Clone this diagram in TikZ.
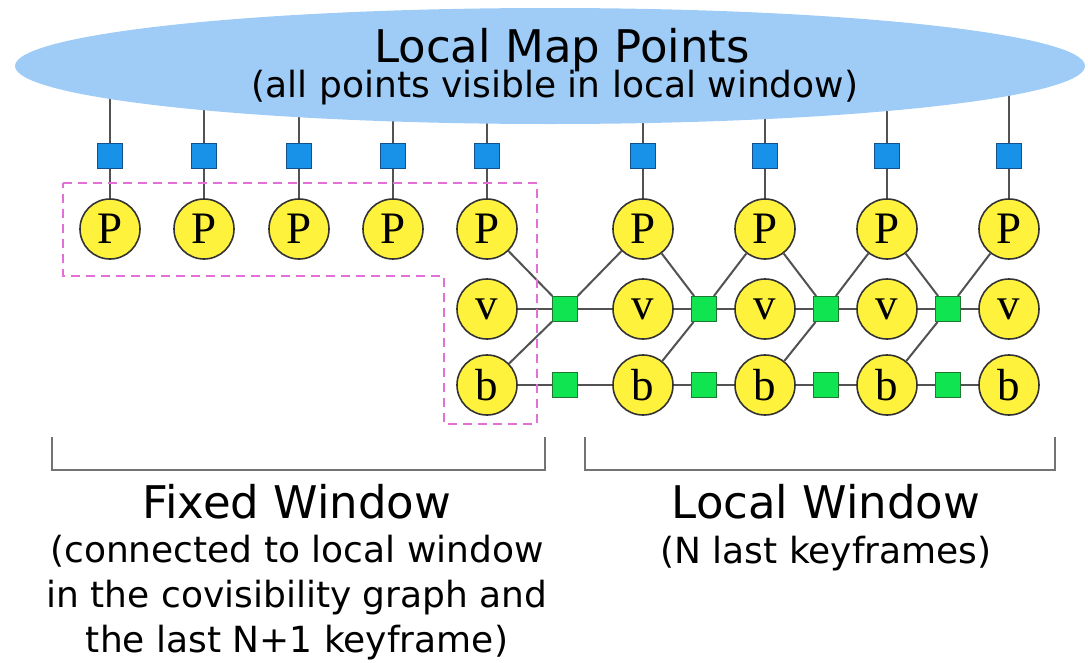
\documentclass[tikz,border=0pt]{standalone}
\usepackage{fontspec}
\setmainfont{DejaVu Sans}
\newfontfamily\kffont{Liberation Serif}
\usetikzlibrary{positioning,backgrounds,shapes.geometric}
\definecolor{mapblue}{RGB}{158,204,247}
\definecolor{mpblue}{RGB}{24,146,232}
\definecolor{mpedge}{RGB}{20,80,140}
\definecolor{imugreen}{RGB}{16,228,80}
\definecolor{imuedge}{RGB}{30,120,50}
\definecolor{kfyellow}{RGB}{255,242,60}
\definecolor{fixpink}{RGB}{226,112,214}

\tikzset{
	kf/.style={circle, draw=black!80, line width=1.6pt, fill=kfyellow, minimum size=60pt, inner sep=0pt, font=\kffont\fontsize{45}{45}\selectfont},
	mp/.style={rectangle, draw=mpedge, line width=1pt, fill=mpblue, minimum size=25pt, inner sep=0pt},
	imu/.style={rectangle, draw=imuedge, line width=1pt, fill=imugreen, minimum size=25pt, inner sep=0pt},
	edge/.style={draw=black!68, line width=2pt},
	bracket/.style={draw=black!55, line width=1.6pt},
	fixbox/.style={draw=fixpink, line width=2.5pt, dash pattern=on 9pt off 6pt},
	bigtext/.style={font=\fontsize{45}{45}\selectfont},
	smalltext/.style={font=\fontsize{36}{45}\selectfont, align=center}
}

\begin{document}
\begin{tikzpicture}[x=1pt, y=-1pt]
		%%%%% START %%%%%
		\useasboundingbox (0,0) rectangle (1088,662);
		
		\node[ellipse, fill=mapblue, minimum width=1070pt, minimum height=116pt, inner sep=0pt] (lmp) at (550,66) {};
		\node[bigtext, anchor=base] (lmptitle) at (562,62) {Local Map Points};
		\node[smalltext, anchor=base] (lmpnote) at (555,97) {(all points visible in local window)};
		
		% map point factors
		\node[mp] (m1) at (110,156) {};
		\node[mp] (m2) at (204,156) {};
		\node[mp] (m3) at (299,156) {};
		\node[mp] (m4) at (393,156) {};
		\node[mp] (m5) at (487,156) {};
		\node[mp] (m6) at (643,156) {};
		\node[mp] (m7) at (765,156) {};
		\node[mp] (m8) at (887,156) {};
		\node[mp] (m9) at (1009,156) {};
		
		% keyframe poses
		\node[kf] (p1) at (110,229) {P};
		\node[kf] (p2) at (204,229) {P};
		\node[kf] (p3) at (299,229) {P};
		\node[kf] (p4) at (393,229) {P};
		\node[kf] (p5) at (487,229) {P};
		\node[kf] (p6) at (643,229) {P};
		\node[kf] (p7) at (765,229) {P};
		\node[kf] (p8) at (887,229) {P};
		\node[kf] (p9) at (1009,229) {P};
		
		% velocities and biases
		\node[kf] (v5) at (487,309) {v};
		\node[kf] (v6) at (643,309) {v};
		\node[kf] (v7) at (765,309) {v};
		\node[kf] (v8) at (887,309) {v};
		\node[kf] (v9) at (1009,309) {v};
		\node[kf] (b5) at (487,385) {b};
		\node[kf] (b6) at (643,385) {b};
		\node[kf] (b7) at (765,385) {b};
		\node[kf] (b8) at (887,385) {b};
		\node[kf] (b9) at (1009,385) {b};
		
		% inertial factors
		\node[imu] (g5) at (565,309) {};
		\node[imu] (g6) at (704,309) {};
		\node[imu] (g7) at (826,309) {};
		\node[imu] (g8) at (948,309) {};
		\node[imu] (h5) at (565,385) {};
		\node[imu] (h6) at (704,385) {};
		\node[imu] (h7) at (826,385) {};
		\node[imu] (h8) at (948,385) {};
		
		\begin{pgfonlayer}{background}
			\draw[edge] (m1) -- (m1 |- lmp.center);
			\draw[edge] (m2) -- (m2 |- lmp.center);
			\draw[edge] (m3) -- (m3 |- lmp.center);
			\draw[edge] (m4) -- (m4 |- lmp.center);
			\draw[edge] (m5) -- (m5 |- lmp.center);
			\draw[edge] (m6) -- (m6 |- lmp.center);
			\draw[edge] (m7) -- (m7 |- lmp.center);
			\draw[edge] (m8) -- (m8 |- lmp.center);
			\draw[edge] (m9) -- (m9 |- lmp.center);
		\end{pgfonlayer}
		
		\draw[edge] (m1) -- (p1);
		\draw[edge] (m2) -- (p2);
		\draw[edge] (m3) -- (p3);
		\draw[edge] (m4) -- (p4);
		\draw[edge] (m5) -- (p5);
		\draw[edge] (m6) -- (p6);
		\draw[edge] (m7) -- (p7);
		\draw[edge] (m8) -- (p8);
		\draw[edge] (m9) -- (p9);
		
		\draw[edge] (p5) -- (g5) -- (p6);
		\draw[edge] (v5) -- (g5) -- (v6);
		\draw[edge] (g5) -- (b5);
		\draw[edge] (b5) -- (h5) -- (b6);
		\draw[edge] (p6) -- (g6) -- (p7);
		\draw[edge] (v6) -- (g6) -- (v7);
		\draw[edge] (g6) -- (b6);
		\draw[edge] (b6) -- (h6) -- (b7);
		\draw[edge] (p7) -- (g7) -- (p8);
		\draw[edge] (v7) -- (g7) -- (v8);
		\draw[edge] (g7) -- (b7);
		\draw[edge] (b7) -- (h7) -- (b8);
		\draw[edge] (p8) -- (g8) -- (p9);
		\draw[edge] (v8) -- (g8) -- (v9);
		\draw[edge] (g8) -- (b8);
		\draw[edge] (b8) -- (h8) -- (b9);
		
		% fixed window outline
		\draw[fixbox] (63,183) -- (537,183) -- (537,424) -- (444,424) -- (444,276) -- (63,276) -- cycle;
		
		% brackets
		\draw[bracket] (52,437) -- (52,470) -- (545,470) -- (545,437);
		\draw[bracket] (585,437) -- (585,470) -- (1055,470) -- (1055,437);
		
		\node[bigtext, anchor=base] (fixed) at (297,518) {Fixed Window};
		\node[smalltext, anchor=base] (fixednote) at (297,652) {(connected to local window\\in the covisibility graph and\\the last N+1 keyframe)};
		\node[bigtext, anchor=base] (local) at (826,518) {Local Window};
		\node[smalltext, anchor=base] (localnote) at (826,563) {(N last keyframes)};
		
		%%%%% END %%%%%
	\end{tikzpicture}
\end{document}
